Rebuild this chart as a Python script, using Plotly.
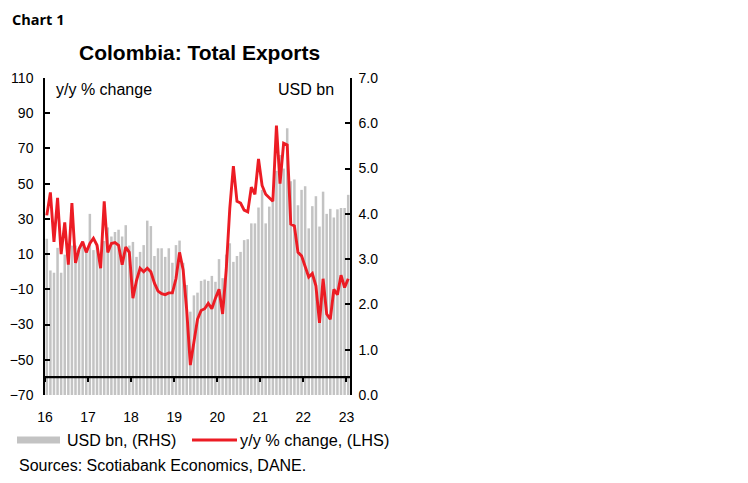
import plotly.graph_objects as go

# Monthly index 0..84 (Jan-16 .. Jan-23 as shown on the chart)
exports_usd_bn = [
    3.45, 2.75, 2.70, 3.25, 2.70, 3.10, 3.20, 3.30, 3.30, 3.20, 3.35, 3.25,
    4.00, 3.20, 3.30, 3.10, 3.40, 3.70, 3.50, 3.60, 3.65, 3.50, 3.75, 3.30,
    3.38, 3.05, 3.16, 3.31, 3.85, 3.73, 3.07, 3.24, 3.24, 3.05, 3.24, 2.92,
    3.31, 3.41, 2.92, 2.43, 1.84, 2.20, 2.26, 2.52, 2.55, 2.52, 2.63, 2.50,
    3.00, 2.58, 3.10, 3.35, 2.94, 3.07, 3.16, 3.42, 3.44, 3.79, 3.79, 4.14,
    4.53, 3.79, 4.16, 4.30, 4.95, 5.30, 5.00, 5.89, 4.72, 4.76, 4.19, 4.53,
    4.61, 3.68, 4.17, 4.39, 3.72, 4.49, 4.00, 4.11, 3.92, 4.10, 4.13, 4.13,
    4.42,
]
yoy_pct = [
    32, 45, 17, 42, 10, 28, 4, 39, 5, 13, 17, 11,
    16, 19, 15, 2, 40, 11, 16, 16.5, 15, 4, 14, 11,
    -15, -5, 2, 0, 2, 0, -6.5, -11, -12.5, -13, -12, -12,
    -4, 11, 1, -22, -53, -41, -27, -22, -21, -18, -21, -15,
    -10, -24, 1, 36, 60, 40, 39, 35, 34, 48, 44, 64,
    49, 44, 42, 40, 83, 50, 73, 72, 27, 26, 11, 9,
    3, -3, -1, -8, -29, -4, -24, -27, -10, -13, -2, -9,
    -4,
]
months = list(range(len(exports_usd_bn)))
year_tick_pos = [-0.5, 11.5, 23.5, 35.5, 47.5, 59.5, 71.5, 83.5]
year_labels = ["16", "17", "18", "19", "20", "21", "22", "23"]
left_ticks = [-70, -50, -30, -10, 10, 30, 50, 70, 90, 110]
right_ticks = [0, 1, 2, 3, 4, 5, 6, 7]
legend_names = ["USD bn, (RHS)", "y/y % change, (LHS)"]

FONT = "Liberation Sans, Arial, sans-serif"
GRAY = "#C3C3C3"
RED = "#EC1C24"

fig = go.Figure()
fig.add_trace(go.Bar(x=months, y=exports_usd_bn, marker_color=GRAY, marker_line_width=0,
                     yaxis="y", showlegend=False, name=legend_names[0]))
fig.add_trace(go.Scatter(x=months, y=yoy_pct, mode="lines", line=dict(color=RED, width=2.9),
                         yaxis="y2", showlegend=False, name=legend_names[1]))

fig.update_layout(
    width=748, height=483,
    margin=dict(l=37, r=406, t=70, b=96),
    paper_bgcolor="white", plot_bgcolor="white",
    font=dict(family=FONT, size=14, color="black"),
    bargap=0.3,
    showlegend=False,
    xaxis=dict(range=[-0.5, 84.5], tickmode="array", tickvals=year_tick_pos, ticktext=year_labels,
               anchor="free", position=0.0555, showline=True, linecolor="black", linewidth=1.5,
               ticks="outside", ticklen=4, tickwidth=1.5, tickcolor="black",
               ticklabelstandoff=23, showgrid=False, zeroline=False, automargin=False,
               tickfont=dict(size=14)),
    yaxis=dict(range=[0, 7], side="right", tickmode="array", tickvals=right_ticks,
               tickformat=".1f", showline=True, linecolor="black", linewidth=1.5,
               ticks="inside", ticklen=5, tickwidth=1.5, tickcolor="black", automargin=False,
               showgrid=False, zeroline=False, ticklabelstandoff=4),
    yaxis2=dict(range=[-70, 110], side="left", overlaying="y", tickmode="array",
                tickvals=left_ticks, showline=True, linecolor="black", linewidth=1.5,
                ticks="inside", ticklen=5, tickwidth=1.5, tickcolor="black", automargin=False,
                showgrid=False, zeroline=False, ticklabelstandoff=7),
    shapes=[
        dict(type="line", xref="x", yref="y2", x0=-0.5, x1=84.5, y0=-60, y1=-60,
             line=dict(color="black", width=1.5), layer="above"),
        # legend keys
        dict(type="rect", xref="paper", yref="paper", x0=-0.0918, x1=0.0492, y0=-0.153, y1=-0.131,
             fillcolor=GRAY, line=dict(width=0)),
        dict(type="line", xref="paper", yref="paper", x0=0.482, x1=0.6295, y0=-0.142, y1=-0.142,
             line=dict(color=RED, width=2.9)),
    ],
    annotations=[
        dict(text="<b>Chart 1</b>", xref="paper", yref="paper", x=-0.116, y=1.2208,
             xanchor="left", yanchor="top", showarrow=False,
             font=dict(family="Open Sans, sans-serif", size=14.5)),
        dict(text="<b>Colombia: Total Exports</b>", xref="paper", yref="paper", x=0.505, y=1.079,
             xanchor="center", yanchor="middle", showarrow=False, font=dict(size=21)),
        dict(text="y/y % change", xref="paper", yref="paper", x=0.028, y=0.965,
             xanchor="left", yanchor="middle", showarrow=False, font=dict(size=16)),
        dict(text="USD bn", xref="paper", yref="paper", x=0.955, y=0.965,
             xanchor="right", yanchor="middle", showarrow=False, font=dict(size=16)),
        dict(text=legend_names[0], xref="paper", yref="paper", x=0.0656, y=-0.142,
             xanchor="left", yanchor="middle", showarrow=False, font=dict(size=16)),
        dict(text=legend_names[1], xref="paper", yref="paper", x=0.633, y=-0.142,
             xanchor="left", yanchor="middle", showarrow=False, font=dict(size=16.3)),
        dict(text="Sources: Scotiabank Economics, DANE.", xref="paper", yref="paper",
             x=-0.0918, y=-0.221, xanchor="left", yanchor="middle", showarrow=False,
             font=dict(size=16)),
    ],
)

fig.write_html("out.html")
